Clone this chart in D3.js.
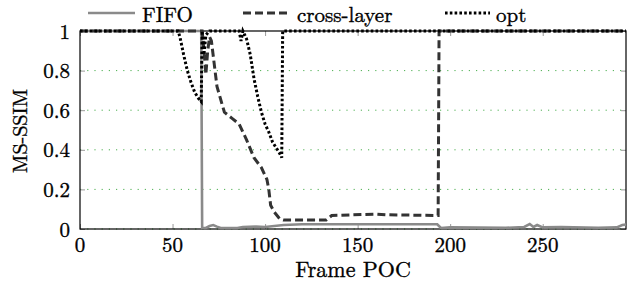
<!DOCTYPE html>
<html><head><meta charset="utf-8">
<script src="https://cdn.jsdelivr.net/npm/d3@7/dist/d3.min.js"></script>
<style>body{margin:0;background:#fff}svg{display:block}</style>
</head><body><svg id="c" width="628" height="284"></svg>
<script>
const xTicks = [0, 50, 100, 150, 200, 250];
const yTicks = [0, 0.2, 0.4, 0.6, 0.8, 1];
const yTickLabels = ["0", "0.2", "0.4", "0.6", "0.8", "1"];
const seriesNames = ["FIFO", "cross-layer", "opt"];

const fifoX = [0, 65.5, 66, 68, 70, 72, 74, 76, 80, 85, 88, 95, 100, 110, 120, 150, 193, 195, 200, 230, 240, 243, 245, 247, 250, 260, 280, 290, 293, 295];
const fifoY = [1, 1, 0.005, 0.005, 0.015, 0.02, 0.012, 0.005, 0.005, 0.005, 0.01, 0.012, 0.01, 0.02, 0.024, 0.024, 0.024, 0.005, 0.008, 0.006, 0.01, 0.025, 0.01, 0.02, 0.008, 0.01, 0.006, 0.008, 0.02, 0.022];

const crossX = [0, 66, 67, 68, 69, 70, 71, 74, 78, 82, 86, 90, 94, 98, 101, 102, 103, 105, 108, 110, 133, 136, 160, 165, 193.5, 194, 295];
const crossY = [1, 1, 0.9, 0.78, 0.9, 0.97, 0.95, 0.72, 0.59, 0.56, 0.53, 0.45, 0.36, 0.31, 0.25, 0.2, 0.12, 0.085, 0.05, 0.045, 0.045, 0.068, 0.075, 0.072, 0.068, 1, 1];

const optX = [0, 53, 54, 56, 58, 60, 62, 64, 65.5, 66, 67, 68, 70, 86, 87, 88, 90, 92, 94, 96, 98, 100, 102, 104, 106, 108, 109, 109.5, 295];
const optY = [1, 1, 0.97, 0.88, 0.8, 0.74, 0.69, 0.66, 0.643, 1, 0.88, 0.98, 1, 1, 0.95, 1, 0.96, 0.88, 0.76, 0.67, 0.59, 0.53, 0.49, 0.44, 0.41, 0.38, 0.36, 1, 1];

const ff = '"Latin Modern Roman", "Liberation Serif", serif';
const svg = d3.select("#c");
const L = 80, R = 626, T = 31, B = 229;
const x = d3.scaleLinear().domain([0, 295]).range([L, R]);
const y = d3.scaleLinear().domain([0, 1]).range([B, T]);

function txt(sel, size) {
  return sel.style("font-family", ff).style("font-size", size + "px")
    .attr("fill", "#000").attr("stroke", "#000").attr("stroke-width", 0.35);
}

// grid
svg.append("g").selectAll("line").data(yTicks.slice(0, 5)).join("line")
  .attr("x1", L).attr("x2", R).attr("y1", d => y(d)).attr("y2", d => y(d))
  .attr("stroke", "#4caf50").attr("stroke-width", 1).attr("stroke-dasharray", "1.2,6");

// axes with inward ticks
const tk = 5;
const gb = svg.append("g").attr("transform", `translate(0,${B})`)
  .call(d3.axisTop(x).tickValues(xTicks).tickSize(tk).tickFormat(""));
const gt = svg.append("g").attr("transform", `translate(0,${T})`)
  .call(d3.axisBottom(x).tickValues(xTicks).tickSize(tk).tickFormat(""));
const gl = svg.append("g").attr("transform", `translate(${L},0)`)
  .call(d3.axisRight(y).tickValues(yTicks).tickSize(tk).tickFormat(""));
const gr = svg.append("g").attr("transform", `translate(${R},0)`)
  .call(d3.axisLeft(y).tickValues(yTicks).tickSize(tk).tickFormat(""));
[gb, gt, gl, gr].forEach(g => { g.select(".domain").remove(); g.selectAll(".tick line").attr("stroke", "#999"); });

// tick labels
txt(svg.append("g").selectAll("text").data(xTicks).join("text")
  .attr("x", d => x(d)).attr("y", 252).attr("text-anchor", "middle"), 21).text(d => d);
txt(svg.append("g").selectAll("text").data(yTicks).join("text")
  .attr("x", 70).attr("y", d => y(d) + 7.5).attr("text-anchor", "end"), 21).text((d, i) => yTickLabels[i]);

// frame
svg.append("rect").attr("x", L).attr("y", T).attr("width", R - L).attr("height", B - T)
  .attr("fill", "none").attr("stroke", "#000").attr("stroke-width", 1.2);

const line = d3.line().x(d => x(d[0])).y(d => y(d[1]));
const styles = [
  {stroke: "#8a8a8a", w: 2.6, dash: null},
  {stroke: "#333", w: 3, dash: "8,4"},
  {stroke: "#000", w: 3, dash: "2.6,2.2"}
];
const data = [
  d3.zip(fifoX, fifoY), d3.zip(crossX, crossY), d3.zip(optX, optY)
];
data.forEach((pts, i) => {
  svg.append("path").datum(pts).attr("d", line)
    .attr("fill", "none").attr("stroke", styles[i].stroke)
    .attr("stroke-width", styles[i].w)
    .attr("stroke-dasharray", styles[i].dash);
});

// axis labels
txt(svg.append("text").attr("x", 353).attr("y", 277).attr("text-anchor", "middle"), 22).text("Frame POC");
txt(svg.append("text").attr("transform", "translate(27,131) rotate(-90)").attr("text-anchor", "middle"), 20).text("MS-SSIM");

// legend
const leg = [{x1: 88, x2: 135, tx: 142}, {x1: 243, x2: 290, tx: 297}, {x1: 445, x2: 490, tx: 496}];
leg.forEach((p, i) => {
  svg.append("line").attr("x1", p.x1).attr("x2", p.x2).attr("y1", 13).attr("y2", 13)
    .attr("stroke", styles[i].stroke).attr("stroke-width", styles[i].w)
    .attr("stroke-dasharray", styles[i].dash);
  txt(svg.append("text").attr("x", p.tx).attr("y", 22), 21).text(seriesNames[i]);
});
</script></body></html>
